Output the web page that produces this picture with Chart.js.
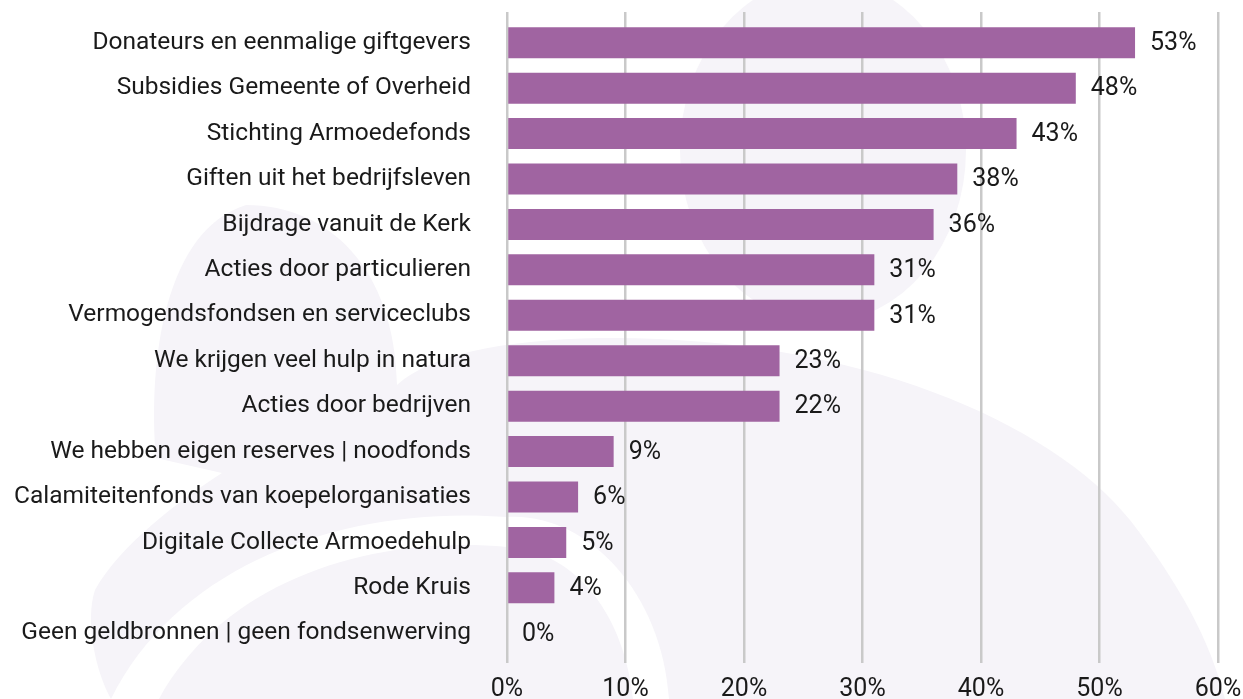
<!DOCTYPE html>
<html>
<head>
<meta charset="utf-8">
<script src="https://cdn.jsdelivr.net/npm/chart.js@4.4.1/dist/chart.umd.min.js"></script>
<style>
  html, body { margin: 0; padding: 0; background: #ffffff; }
  #wrap { width: 1243px; height: 699px; position: relative; }
  canvas { display: block; }
</style>
</head>
<body>
<div id="wrap"><canvas id="chart" width="1243" height="699"></canvas></div>
<script>
const categories = [
  'Donateurs en eenmalige giftgevers',
  'Subsidies Gemeente of Overheid',
  'Stichting Armoedefonds',
  'Giften uit het bedrijfsleven',
  'Bijdrage vanuit de Kerk',
  'Acties door particulieren',
  'Vermogendsfondsen en serviceclubs',
  'We krijgen veel hulp in natura',
  'Acties door bedrijven',
  'We hebben eigen reserves | noodfonds',
  'Calamiteitenfonds van koepelorganisaties',
  'Digitale Collecte Armoedehulp',
  'Rode Kruis',
  'Geen geldbronnen | geen fondsenwerving'
];
const values = [53, 48, 43, 38, 36, 31, 31, 23, 23, 9, 6, 5, 4, 0];
const valueLabels = ['53%', '48%', '43%', '38%', '36%', '31%', '31%', '23%', '22%', '9%', '6%', '5%', '4%', '0%'];
const tickValues = [0, 10, 20, 30, 40, 50, 60];

const FONT = 'Roboto';
const TEXT = '#1a1a1a';
const GRID = '#c9c9c9';
const BAR = '#a064a1';
const LAVENDER = '#f6f4f9';

const backgroundPlugin = {
  id: 'logoBackground',
  beforeDraw(chart) {
    const ctx = chart.ctx;
    ctx.save();
    ctx.fillStyle = '#ffffff';
    ctx.fillRect(0, 0, chart.width, chart.height);
    ctx.fillStyle = LAVENDER;
    // head
    ctx.beginPath();
    ctx.ellipse(823, 150, 143, 172, 0, 0, Math.PI * 2);
    ctx.fill();
    // leaf + big arc
    ctx.beginPath();
    ctx.moveTo(246, 205);
    ctx.bezierCurveTo(330, 205, 395, 270, 397, 385);
    ctx.bezierCurveTo(430, 355, 500, 340, 600, 338);
    ctx.bezierCurveTo(850, 335, 1050, 420, 1130, 520);
    ctx.bezierCurveTo(1180, 585, 1210, 640, 1225, 699);
    ctx.lineTo(669, 699);
    ctx.bezierCurveTo(662, 590, 585, 512, 507, 517);
    ctx.bezierCurveTo(350, 505, 180, 560, 111, 699);
    ctx.bezierCurveTo(95, 670, 85, 620, 95, 590);
    ctx.bezierCurveTo(120, 545, 180, 500, 222, 473);
    ctx.lineTo(156, 458);
    ctx.bezierCurveTo(148, 360, 165, 230, 246, 205);
    ctx.closePath();
    ctx.fill();
    // inner arch under the white swoosh
    ctx.beginPath();
    ctx.moveTo(159, 699);
    ctx.bezierCurveTo(225, 580, 370, 535, 507, 547);
    ctx.bezierCurveTo(580, 552, 625, 620, 633, 699);
    ctx.closePath();
    ctx.fill();
    ctx.restore();
  }
};

const valueLabelPlugin = {
  id: 'valueLabels',
  afterDatasetsDraw(chart) {
    const ctx = chart.ctx;
    const meta = chart.getDatasetMeta(0);
    ctx.save();
    ctx.font = '25px ' + FONT;
    ctx.fillStyle = TEXT;
    ctx.textAlign = 'left';
    ctx.textBaseline = 'middle';
    meta.data.forEach((bar, i) => {
      ctx.fillText(valueLabels[i], bar.x + 15, bar.y + 1);
    });
    ctx.restore();
  }
};

new Chart(document.getElementById('chart'), {
  type: 'bar',
  data: {
    labels: categories,
    datasets: [{
      data: values,
      backgroundColor: BAR,
      borderWidth: 0,
      categoryPercentage: 1,
      barPercentage: 0.683
    }]
  },
  options: {
    indexAxis: 'y',
    responsive: false,
    animation: false,
    events: [],
    layout: { padding: { left: 10, top: 12, right: 25, bottom: 0 } },
    plugins: {
      legend: { display: false },
      tooltip: { enabled: false },
      title: { display: false }
    },
    scales: {
      x: {
        type: 'linear',
        position: 'bottom',
        min: tickValues[0],
        max: tickValues[tickValues.length - 1],
        afterBuildTicks(s) { s.ticks = tickValues.map(v => ({ value: v })); },
        afterFit(s) { s.paddingLeft = 0; s.paddingRight = 0; s.height = 43; },
        grid: { color: GRID, lineWidth: 2.5, drawTicks: true, tickLength: 7, tickColor: GRID, tickWidth: 2.5 },
        border: { display: false },
        ticks: {
          padding: 14,
          color: TEXT,
          font: { family: FONT, size: 25, lineHeight: 1 },
          callback: v => v + '%',
          maxRotation: 0
        }
      },
      x2: {
        type: 'linear',
        axis: 'x',
        position: 'top',
        min: tickValues[0],
        max: tickValues[tickValues.length - 1],
        afterBuildTicks(s) { s.ticks = tickValues.map(v => ({ value: v })); },
        grid: { drawOnChartArea: false, drawTicks: true, tickLength: 8, color: GRID, tickColor: GRID, lineWidth: 2.5, tickWidth: 2.5 },
        border: { display: false },
        ticks: { display: false }
      },
      y: {
        type: 'category',
        afterFit(s) { s.width = 497; s.paddingTop = 0; s.paddingBottom = 0; },
        grid: { display: false, drawTicks: false },
        border: { display: false },
        ticks: {
          padding: 36,
          color: TEXT,
          font: { family: FONT, size: 24.5 },
          autoSkip: false
        }
      }
    }
  },
  plugins: [backgroundPlugin, valueLabelPlugin]
});
</script>
</body>
</html>
